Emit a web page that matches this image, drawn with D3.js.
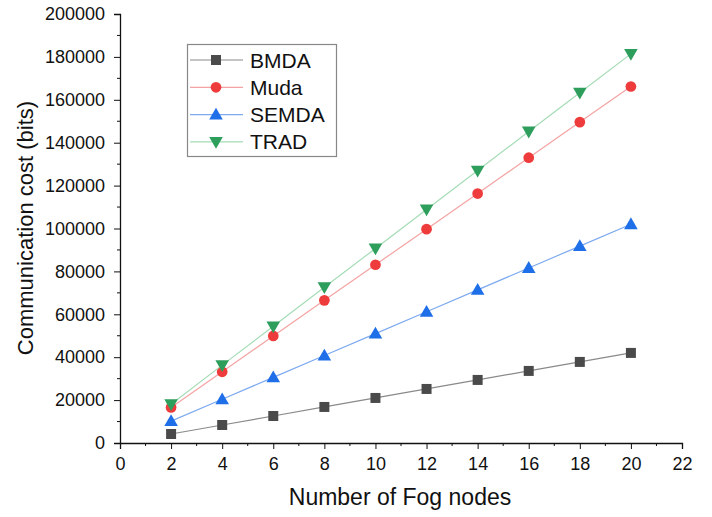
<!DOCTYPE html>
<html>
<head>
<meta charset="utf-8">
<script src="https://cdn.jsdelivr.net/npm/d3@7"></script>
<style>
  body { margin: 0; background: #fff; }
  text { font-family: "Liberation Sans", Arial, sans-serif; fill: #111; }
</style>
</head>
<body>
<div id="chart"></div>
<script>
// data
const fogNodes = [2, 4, 6, 8, 10, 12, 14, 16, 18, 20]
const bmda  = [4200, 8400, 12600, 16800, 21000, 25200, 29400, 33600, 37800, 42000]
const muda  = [16600, 33200, 49900, 66500, 83100, 99700, 116300, 133000, 149600, 166200]
const semda = [10200, 20400, 30600, 40800, 51000, 61200, 71400, 81600, 91800, 102000]
const trad  = [18100, 36300, 54400, 72600, 90700, 108900, 127000, 145200, 163300, 181400]
const seriesNames = ["BMDA", "Muda", "SEMDA", "TRAD"]
const xTicks = [0, 2, 4, 6, 8, 10, 12, 14, 16, 18, 20, 22]
const yTicks = [0, 20000, 40000, 60000, 80000, 100000, 120000, 140000, 160000, 180000, 200000]

const width = 712
const height = 517
const margin = { top: 14, right: 30, bottom: 74, left: 120 }

const svg = d3.select("#chart")
    .append("svg")
    .attr("width", width)
    .attr("height", height)

const x = d3.scaleLinear().domain([0, 22]).range([margin.left, 682])
const y = d3.scaleLinear().domain([0, 200000]).range([height - margin.bottom, margin.top])

//styles per series
const styles = [
    { line: "#8a8a8a", fill: "#4a4a4a", shape: d3.symbolSquare, size: 100, rot: 0 },
    { line: "#f4a3a3", fill: "#ee3b3b", shape: d3.symbolCircle, size: 90, rot: 0 },
    { line: "#7eaaf0", fill: "#1f6fe8", shape: d3.symbolTriangle, size: 80, rot: 0 },
    { line: "#a5dcb6", fill: "#2e9e5c", shape: d3.symbolTriangle, size: 80, rot: 180 }
]
const allSeries = [bmda, muda, semda, trad]

//----------------------------------------------------------------------------
//axes
const xAxis = svg.append("g")
    .attr("transform", `translate(0,${y(0)})`)
    .call(d3.axisBottom(x).tickValues(xTicks).tickSize(6).tickPadding(8).tickFormat(d3.format("d")))
xAxis.selectAll("text").style("font-size", "18px")

//minor x ticks
svg.append("g").selectAll("line")
    .data(d3.range(1, 22, 2))
    .join("line")
    .attr("x1", d => x(d)).attr("x2", d => x(d))
    .attr("y1", y(0)).attr("y2", y(0) + 3)
    .attr("stroke", "#111")

const yAxis = svg.append("g")
    .attr("transform", `translate(${x(0)},0)`)
    .call(d3.axisLeft(y).tickValues(yTicks).tickSize(6).tickPadding(9).tickFormat(d3.format("d")))
yAxis.selectAll("text").style("font-size", "18px")

svg.append("g").selectAll("line")
    .data(d3.range(10000, 200000, 20000))
    .join("line")
    .attr("x1", x(0) - 3).attr("x2", x(0))
    .attr("y1", d => y(d)).attr("y2", d => y(d))
    .attr("stroke", "#111")

svg.selectAll(".domain").attr("stroke", "#111").attr("stroke-width", 1.3)
svg.selectAll(".tick line").attr("stroke", "#111")

//axis titles
svg.append("text")
    .attr("x", 400).attr("y", 505)
    .attr("text-anchor", "middle")
    .style("font-size", "23px")
    .text("Number of Fog nodes")

svg.append("text")
    .attr("transform", "translate(33,228) rotate(-90)")
    .attr("text-anchor", "middle")
    .style("font-size", "22px")
    .text("Communication cost (bits)")

//----------------------------------------------------------------------------
//lines + markers
const line = d3.line().x(d => x(d[0])).y(d => y(d[1]))

allSeries.forEach((vals, i) => {
    const pts = fogNodes.map((n, j) => [n, vals[j]])
    const st = styles[i]
    svg.append("path")
        .datum(pts)
        .attr("d", line)
        .attr("fill", "none")
        .attr("stroke", st.line)
        .attr("stroke-width", 1.2)

    svg.append("g").selectAll("path")
        .data(pts)
        .join("path")
        .attr("d", d3.symbol().type(st.shape).size(st.size))
        .attr("transform", d => `translate(${x(d[0])},${y(d[1]) + (st.rot ? -1 : (st.shape === d3.symbolTriangle ? 1 : 0))}) rotate(${st.rot})`)
        .attr("fill", st.fill)
})

//----------------------------------------------------------------------------
//legend
const legend = svg.append("g")
legend.append("rect")
    .attr("x", 187.5).attr("y", 44.5)
    .attr("width", 149).attr("height", 112)
    .attr("fill", "white")
    .attr("stroke", "#888")
    .attr("stroke-width", 1.2)

seriesNames.forEach((name, i) => {
    const st = styles[i]
    const cy = 60 + i * 27.3
    legend.append("line")
        .attr("x1", 190).attr("x2", 243)
        .attr("y1", cy).attr("y2", cy)
        .attr("stroke", st.line).attr("stroke-width", 1.2)
    legend.append("path")
        .attr("d", d3.symbol().type(st.shape).size(st.size))
        .attr("transform", `translate(216,${cy + (st.rot ? -1 : (st.shape === d3.symbolTriangle ? 1 : 0))}) rotate(${st.rot})`)
        .attr("fill", st.fill)
    legend.append("text")
        .attr("x", 250).attr("y", cy)
        .attr("dy", "0.36em")
        .style("font-size", "21px")
        .text(name)
})
</script>
</body>
</html>
